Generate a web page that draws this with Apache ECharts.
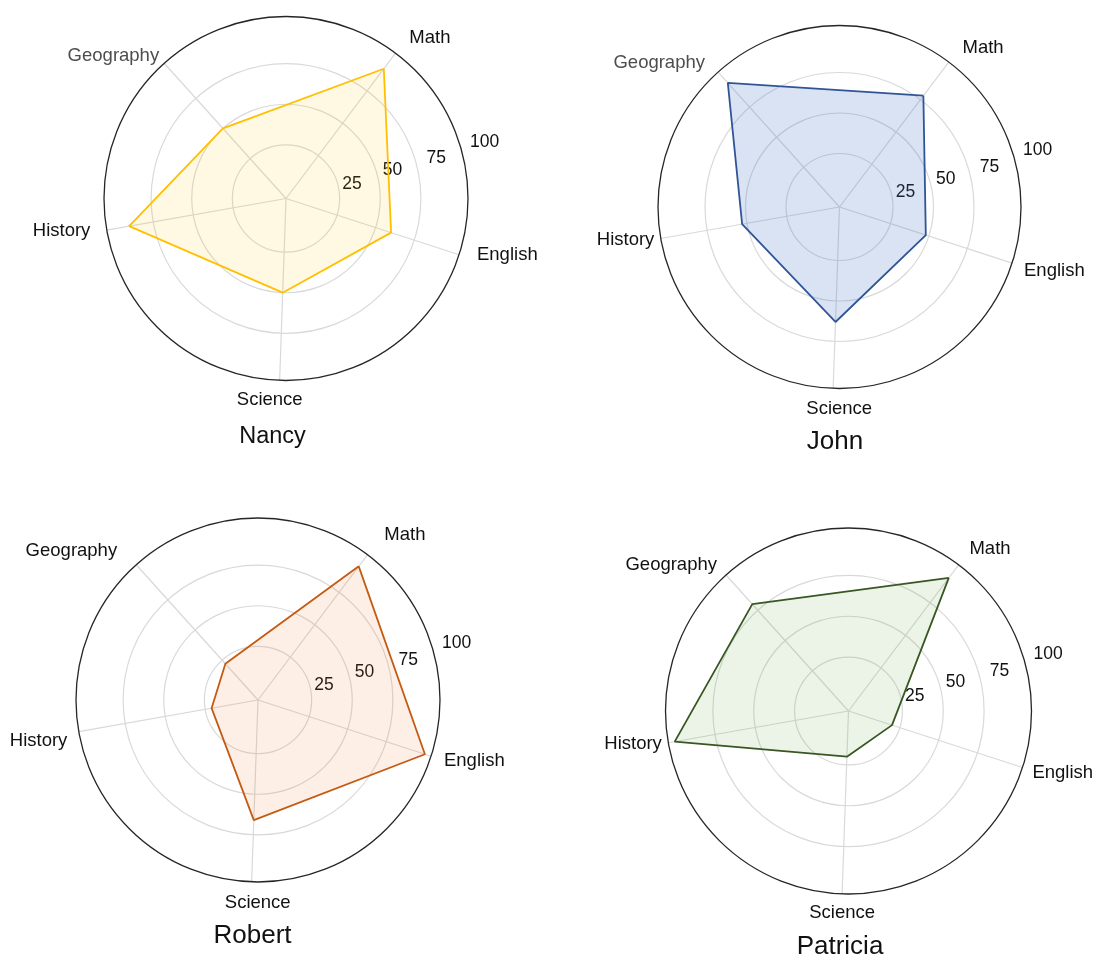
<!DOCTYPE html>
<html>
<head>
<meta charset="utf-8">
<title>Student scores</title>
<script src="https://cdn.jsdelivr.net/npm/echarts@6/dist/echarts.min.js"></script>
<style>
  html, body { margin: 0; padding: 0; background: #fff; }
  #chart { width: 1100px; height: 968px; }
</style>
</head>
<body>
<div id="chart"></div>
<script>
// ---- data ----
var subjects = ['Math', 'Geography', 'History', 'Science', 'English'];
var students = ['Nancy', 'John', 'Robert', 'Patricia'];
var nancyScores = [92, 50, 90, 50, 60];
var johnScores = [78, 95, 53, 63, 48];
var robertScores = [95, 22, 21, 66, 100];
var patriciaScores = [94, 80, 100, 20, 20];
var ringTicks = [25, 50, 75, 100];

// ---- layout ----
var FONT = 'Arial, "Liberation Sans", Helvetica, sans-serif';
// spokes in the source plot are not evenly spaced (degrees, counter-clockwise from east)
var spokeAngles = [53, 132, 190, 268, 342];
// radial range of the source plot: the 25/50/75 rings sit off a zero origin
var radialMin = -8, radialMax = 104;

var panels = [
    { center: [286, 198.5], r: 182, title: [272.5, 437], titleSize: 23.5, line: '#FFC000', fill: 'rgba(255,192,0,0.11)', geo: '#4d4d4d',
      shift: { Math: [0, 3], Geography: [7, 5], History: [-6, 0], Science: [-10, 1], English: [5, -4] } },
    { center: [839.5, 207], r: 181.5, title: [835, 442], titleSize: 26, line: '#2F5597', fill: 'rgba(68,114,196,0.2)', geo: '#4d4d4d',
      shift: { Math: [0, 4], Geography: [-1, 3], History: [4, 0], Science: [6, 2], English: [-1, 4] } },
    { center: [258, 700], r: 182, title: [252.5, 935.5], titleSize: 26, line: '#C55A11', fill: 'rgba(237,125,49,0.12)', geo: '#111',
      shift: { Math: [3, -1], Geography: [-7, -1], History: [-1, 7.8], Science: [6, 3], English: [0, 1] } },
    { center: [848.5, 711], r: 183, title: [840, 947], titleSize: 26, line: '#385723', fill: 'rgba(112,173,71,0.13)', geo: '#111',
      shift: { Math: [-3, 2], Geography: [3, 2], History: [4, 0], Science: [0, 1], English: [-3, 1] } }
];
var scores = [nancyScores, johnScores, robertScores, patriciaScores];

// base padding [top, right, bottom, left] of the subject names around the rim
var namePad = {
    Math: [0, 0, 19.5, 15],
    Geography: [0, 13.4, 13.4, 0],
    History: [3, 12.4, 0, 0],
    Science: [20, 0, 0, 0],
    English: [4.2, 0, 0, 14.8]
};

function padFor(name, s) {
    var b = namePad[name].slice();
    var dx = s[0], dy = s[1];
    if (name === 'Math') { b[3] += dx; b[2] -= dy; }
    else if (name === 'Geography') { b[1] -= dx; b[2] -= dy; }
    else if (name === 'History') { b[1] -= dx; b[0] += 2 * dy; }
    else if (name === 'Science') { if (dx > 0) b[3] += 2 * dx; else b[1] -= 2 * dx; b[0] += dy; }
    else { b[3] += dx; b[0] += dy; }
    return b.map(function (v) { return Math.max(0, v); });
}

function isSpoke(index) {
    return spokeAngles.indexOf(index) >= 0;
}

function angleSlots(p) {
    var slots = [];
    for (var d = 0; d < 360; d++) slots.push(String(d));
    subjects.forEach(function (name, k) {
        var pad = padFor(name, p.shift[name]);
        var ts = { color: name === 'Geography' ? p.geo : '#111' };
        if (name === 'History') {
            // middle-aligned label: vertical nudge has to go through a rich token
            ts.padding = [0, pad[1], 0, 0];
            ts.rich = { h: { padding: [pad[0], 0, 0, 0] } };
        } else {
            ts.padding = pad;
        }
        slots[spokeAngles[k]] = { value: name, textStyle: ts };
    });
    return slots;
}

function closedShape(vals) {
    var pts = vals.map(function (v, k) { return [v, spokeAngles[k]]; });
    pts.push(pts[0]);
    return pts;
}

var polar = [], angleAxis = [], radiusAxis = [], series = [], title = [];

panels.forEach(function (p, i) {
    // polar 2i: spokes, rim, names and the score polygon
    polar.push({ center: p.center, radius: p.r });
    // polar 2i+1: grid rings and their labels
    polar.push({
        center: p.center,
        radius: [p.r * (0 - radialMin) / (radialMax - radialMin), p.r * (100 - radialMin) / (radialMax - radialMin)]
    });

    angleAxis.push({
        polarIndex: 2 * i,
        type: 'category',
        data: angleSlots(p),
        boundaryGap: true,
        startAngle: -0.5,
        clockwise: false,
        axisLine: { lineStyle: { color: '#262626', width: 1.3 } },
        axisTick: { show: false, alignWithLabel: true, interval: isSpoke },
        splitLine: { show: true, alignWithLabel: true, interval: isSpoke, lineStyle: { color: '#d9d9d9', width: 1.2 } },
        axisLabel: {
            interval: isSpoke,
            margin: -2,
            color: '#111',
            fontSize: 18.5,
            fontFamily: FONT,
            lineHeight: 1,
            formatter: function (v) {
                return v === 'History' ? '{h|' + v + '}' : v;
            }
        }
    });
    angleAxis.push({
        polarIndex: 2 * i + 1,
        type: 'value',
        min: 0,
        max: 360,
        startAngle: 16.8,
        show: false
    });

    radiusAxis.push({
        polarIndex: 2 * i,
        type: 'value',
        min: radialMin,
        max: radialMax,
        show: false
    });
    radiusAxis.push({
        polarIndex: 2 * i + 1,
        type: 'value',
        min: 0,
        max: 100,
        interval: 25,
        axisLine: { show: false },
        axisTick: { show: false },
        splitLine: {
            show: true,
            lineStyle: { color: ['rgba(0,0,0,0)', '#d9d9d9', '#d9d9d9', '#d9d9d9', 'rgba(0,0,0,0)'], width: 1.2 }
        },
        axisLabel: {
            margin: 0,
            align: 'left',
            verticalAlign: 'middle',
            color: '#111',
            fontSize: 17.5,
            fontFamily: FONT,
            formatter: function (v) {
                return ringTicks.indexOf(v) < 0 ? '' : '{t' + v + '|' + v + '}';
            },
            rich: {
                t25: { padding: [2, 0, 0, 5] },
                t50: { padding: [0, 0, 2, 6.5] },
                t75: { padding: [0, 0, 2, 11.5] },
                t100: { padding: [0, 0, 11.5, 16] }
            }
        }
    });

    series.push({
        name: students[i],
        type: 'line',
        coordinateSystem: 'polar',
        polarIndex: 2 * i,
        data: closedShape(scores[i]),
        symbol: 'none',
        clip: false,
        lineStyle: { color: p.line, width: 1.8 },
        itemStyle: { color: p.line },
        areaStyle: { color: p.fill, opacity: 1, origin: 'start' },
        z: 5
    });

    title.push({
        text: students[i],
        left: p.title[0],
        top: p.title[1],
        textAlign: 'center',
        textVerticalAlign: 'middle',
        padding: 0,
        textStyle: { fontSize: p.titleSize, fontWeight: 'normal', color: '#111', fontFamily: FONT }
    });
});

var myChart = echarts.init(document.getElementById('chart'), null, { renderer: 'canvas' });
myChart.setOption({
    animation: false,
    backgroundColor: '#fff',
    title: title,
    polar: polar,
    angleAxis: angleAxis,
    radiusAxis: radiusAxis,
    series: series
});
</script>
</body>
</html>
